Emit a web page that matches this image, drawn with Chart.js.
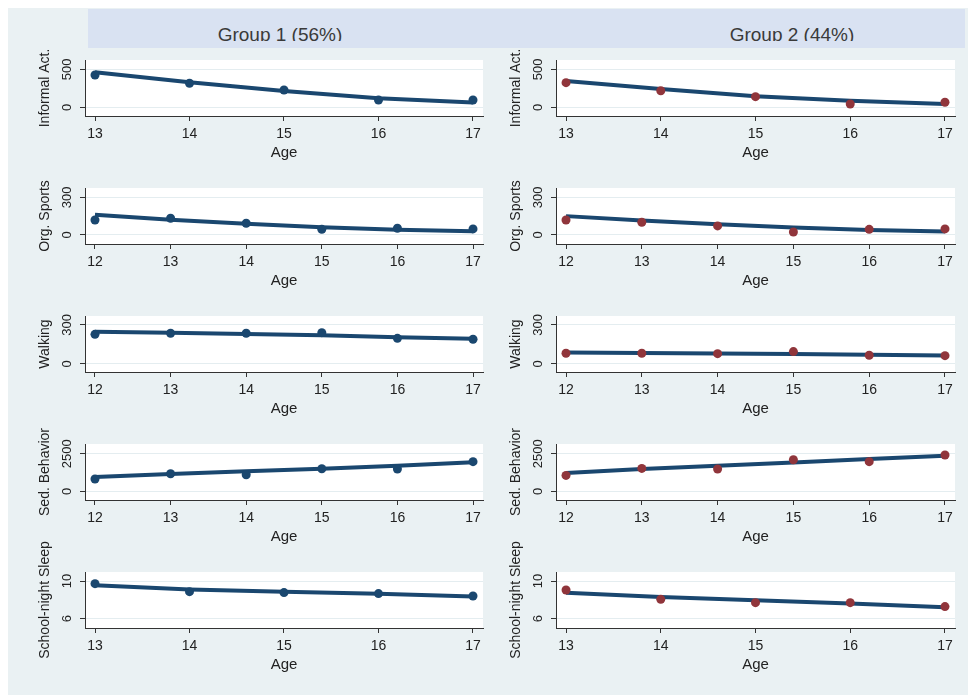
<!DOCTYPE html>
<html>
<head>
<meta charset="utf-8">
<script src="https://cdn.jsdelivr.net/npm/chart.js@4/dist/chart.umd.min.js"></script>
<style>
  html, body { margin: 0; padding: 0; background: #ffffff; }
  body { width: 970px; height: 698px; position: relative; overflow: hidden;
         font-family: "Liberation Sans", Arial, sans-serif; }
  #panelBg { position: absolute; left: 8px; top: 8px; width: 960px; height: 687px; background: #eaf1f3; }
  #header { position: absolute; left: 88px; top: 9px; width: 877px; height: 39px; background: #d9e2f2; }
  #headerClip { position: absolute; left: 0; top: 0; width: 877px; height: 32px; overflow: hidden; }
  .groupTitle { position: absolute; top: 16px; width: 300px; text-align: center;
                font-size: 19px; line-height: 19px; color: #3a3a3a; white-space: nowrap; }
  canvas { position: absolute; }
</style>
</head>
<body>
<div id="panelBg"></div>
<div id="header"><div id="headerClip">
  <div class="groupTitle" style="left:42px">Group 1 (56%)</div>
  <div class="groupTitle" style="left:554px">Group 2 (44%)</div>
</div></div>
<div id="charts"></div>
<script>
// Ages observed for each outcome
const agesFrom13 = [13, 14, 15, 16, 17];
const agesFrom12 = [12, 13, 14, 15, 16, 17];

// Outcome labels (y-axis titles)
const outcomeLabels = ['Informal Act.', 'Org. Sports', 'Walking', 'Sed. Behavior', 'School-night Sleep'];

// Group 1: observed means and fitted trajectory
const informalG1 = [425, 316, 228, 96, 96];
const informalG1Fit = [460, 330, 215, 120, 65];
const sportsG1 = [119, 133, 93, 45, 53, 48];
const sportsG1Fit = [160, 122, 90, 62, 42, 30];
const walkingG1 = [228, 236, 236, 241, 197, 190];
const walkingG1Fit = [248, 240, 230, 220, 205, 193];
const sedentaryG1 = [822, 1174, 1107, 1505, 1485, 1970];
const sedentaryG1Fit = [950, 1150, 1330, 1500, 1700, 1930];
const sleepG1 = [9.72, 8.87, 8.77, 8.66, 8.40];
const sleepG1Fit = [9.55, 9.1, 8.85, 8.65, 8.35];

// Group 2: observed means and fitted trajectory
const informalG2 = [324, 218, 140, 43, 66];
const informalG2Fit = [345, 240, 145, 85, 45];
const sportsG2 = [119, 101, 72, 24, 45, 48];
const sportsG2Fit = [150, 115, 85, 60, 40, 27];
const walkingG2 = [82, 82, 79, 95, 67, 64];
const walkingG2Fit = [88, 85, 80, 76, 70, 65];
const sedentaryG2 = [1061, 1525, 1485, 2102, 1970, 2414];
const sedentaryG2Fit = [1220, 1480, 1700, 1920, 2150, 2370];
const sleepG2 = [9.04, 8.05, 7.70, 7.70, 7.28];
const sleepG2Fit = [8.75, 8.3, 7.95, 7.62, 7.2];

// Y-axis tick labels per outcome
const yTicksInformal = [0, 500];
const yTicksSports = [0, 300];
const yTicksWalking = [0, 300];
const yTicksSedentary = [0, 2500];
const yTicksSleep = [6, 10];

const navy = '#1a476f';
const maroon = '#90353b';
const inkColor = '#222222';
const axisColor = '#333333';
const fontFamily = '"Liberation Sans", Arial, sans-serif';

// One row per outcome: ages, tick values, axis ranges, and both groups' series
const rows = [
  { label: outcomeLabels[0], ages: agesFrom13, yTicks: yTicksInformal, yMin: -114, yMax: 622, xMin: 12.894, xMax: 17.106,
    g1: [informalG1, informalG1Fit], g2: [informalG2, informalG2Fit] },
  { label: outcomeLabels[1], ages: agesFrom12, yTicks: yTicksSports, yMin: -72, yMax: 374, xMin: 11.868, xMax: 17.132,
    g1: [sportsG1, sportsG1Fit], g2: [sportsG2, sportsG2Fit] },
  { label: outcomeLabels[2], ages: agesFrom12, yTicks: yTicksWalking, yMin: -62, yMax: 369, xMin: 11.868, xMax: 17.132,
    g1: [walkingG1, walkingG1Fit], g2: [walkingG2, walkingG2Fit] },
  { label: outcomeLabels[3], ages: agesFrom12, yTicks: yTicksSedentary, yMin: -570, yMax: 3143, xMin: 11.868, xMax: 17.132,
    g1: [sedentaryG1, sedentaryG1Fit], g2: [sedentaryG2, sedentaryG2Fit] },
  { label: outcomeLabels[4], ages: agesFrom13, yTicks: yTicksSleep, yMin: 5.0, yMax: 10.96, xMin: 12.894, xMax: 17.106,
    g1: [sleepG1, sleepG1Fit], g2: [sleepG2, sleepG2Fit] }
];

// White plot region behind the marks
const plotFill = {
  id: 'plotFill',
  beforeDraw(chart) {
    const { ctx, chartArea: a } = chart;
    ctx.save();
    ctx.fillStyle = '#ffffff';
    ctx.fillRect(a.left, a.top, a.right - a.left, a.bottom - a.top);
    ctx.restore();
  }
};

// Rotated y tick labels and the outcome title on the left side
const sideLabels = {
  id: 'sideLabels',
  afterDraw(chart, args, opts) {
    const { ctx, chartArea: a } = chart;
    const y = chart.scales.y;
    ctx.save();
    ctx.fillStyle = inkColor;
    ctx.textAlign = 'center';
    ctx.textBaseline = 'middle';
    ctx.font = '13px ' + fontFamily;
    y.ticks.forEach(t => {
      const py = y.getPixelForValue(t.value);
      ctx.save();
      ctx.translate(a.left - 18, py);
      ctx.rotate(-Math.PI / 2);
      ctx.fillText(t.label, 0, 0);
      ctx.restore();
    });
    ctx.font = '14px ' + fontFamily;
    ctx.translate(a.left - 40, (a.top + a.bottom) / 2);
    ctx.rotate(-Math.PI / 2);
    ctx.fillText(opts.title, 0, 0);
    ctx.restore();
  }
};

const holder = document.getElementById('charts');
const padTop = 35;
const canvasH = 141;

function makePanel(row, rowIndex, col) {
  const series = col === 0 ? row.g1 : row.g2;
  const markerColor = col === 0 ? navy : maroon;
  const yAxisWidth = col === 0 ? 85 : 71;
  const canvasW = col === 0 ? 488 : 485;
  const rightPad = col === 0 ? 5 : 15;

  const cv = document.createElement('canvas');
  cv.width = canvasW;
  cv.height = canvasH;
  cv.style.left = (col === 0 ? 0 : 485) + 'px';
  cv.style.top = (60 + 128 * rowIndex - padTop) + 'px';
  holder.appendChild(cv);

  new Chart(cv, {
    type: 'line',
    data: {
      datasets: [
        {
          type: 'scatter',
          data: row.ages.map((a, i) => ({ x: a, y: series[0][i] })),
          backgroundColor: markerColor,
          borderColor: markerColor,
          borderWidth: 0,
          pointRadius: 4.5,
          order: 0
        },
        {
          type: 'line',
          data: row.ages.map((a, i) => ({ x: a, y: series[1][i] })),
          borderColor: navy,
          borderWidth: 4,
          pointRadius: 0,
          tension: 0,
          fill: false,
          borderJoinStyle: 'round',
          order: 1
        }
      ]
    },
    options: {
      responsive: false,
      animation: false,
      devicePixelRatio: 1,
      layout: { padding: { top: padTop, left: 0, right: rightPad, bottom: 0 } },
      plugins: {
        legend: { display: false },
        tooltip: { enabled: false },
        sideLabels: { title: row.label }
      },
      scales: {
        x: {
          type: 'linear',
          min: row.xMin,
          max: row.xMax,
          afterBuildTicks: s => { s.ticks = row.ages.map(v => ({ value: v })); },
          afterFit: s => { s.height = 50; s.paddingLeft = 0; s.paddingRight = 0; },
          ticks: { color: inkColor, font: { size: 14, family: fontFamily }, padding: 5, maxRotation: 0,
                   callback: v => String(v) },
          grid: { drawOnChartArea: false, drawTicks: true, tickLength: 5, tickColor: axisColor, tickWidth: 1 },
          border: { display: true, color: axisColor, width: 1 },
          title: { display: true, text: 'Age', color: inkColor, font: { size: 15, family: fontFamily },
                   padding: { top: 0, bottom: 4 } }
        },
        y: {
          type: 'linear',
          min: row.yMin,
          max: row.yMax,
          afterBuildTicks: s => { s.ticks = row.yTicks.map(v => ({ value: v })); },
          afterFit: s => { s.width = yAxisWidth; s.paddingTop = 0; s.paddingBottom = 0; },
          ticks: { display: false, callback: v => String(v) },
          grid: { color: '#e4edf0', lineWidth: 1, drawTicks: true, tickLength: 5, tickColor: axisColor, tickWidth: 1 },
          border: { display: true, color: axisColor, width: 1 }
        }
      }
    },
    plugins: [plotFill, sideLabels]
  });
}

rows.forEach((row, r) => {
  makePanel(row, r, 0);
  makePanel(row, r, 1);
});
</script>
</body>
</html>
